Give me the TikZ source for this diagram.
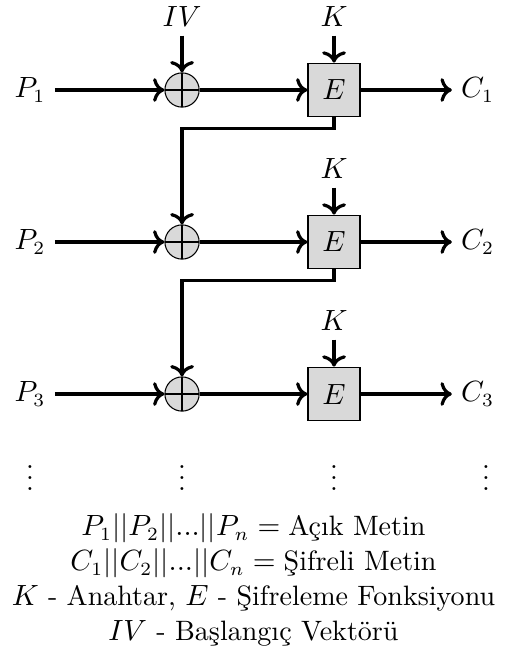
\documentclass[tikz,border=0pt]{standalone}
\usepackage{amsmath}
\usepackage{tikz}
\usetikzlibrary{positioning, arrows.meta}

\begin{document}
\begin{tikzpicture}[
  every node/.style={font=\fontsize{10.5}{13.1}\selectfont},
  enc/.style={draw, semithick, fill=gray!30, minimum width=0.68cm,
              minimum height=0.7cm, inner sep=0pt},
  xorop/.style={draw, circle, fill=gray!30, minimum size=0.45cm, inner sep=0pt,
                path picture={\draw (path picture bounding box.north) -- (path picture bounding box.south)
                                    (path picture bounding box.west) -- (path picture bounding box.east);}},
  arr/.style={->, very thick},
]
\useasboundingbox (-0.395,1.184) rectangle (6.276,-7.447);

% first block
\node (p1) at (0,0)    {$P_1$};
\node[xorop] (x1) at (2,0) {};
\node[enc]   (e1) at (4,0) {$E$};
\node (c1) at (5.89,0) {$C_1$};
\node (iv) at (2,0.97) {$IV$};
\node (k1) at (4,0.97) {$K$};

% second block
\node (p2) at (0,-2)    {$P_2$};
\node[xorop] (x2) at (2,-2) {};
\node[enc]   (e2) at (4,-2) {$E$};
\node (c2) at (5.89,-2) {$C_2$};
\node (k2) at (4,-1.03) {$K$};

% third block
\node (p3) at (0,-4)    {$P_3$};
\node[xorop] (x3) at (2,-4) {};
\node[enc]   (e3) at (4,-4) {$E$};
\node (c3) at (5.89,-4) {$C_3$};
\node (k3) at (4,-3.03) {$K$};

\node (d1) at (0,-5) {$\vdots$};
\node (d2) at (2,-5) {$\vdots$};
\node (d3) at (4,-5) {$\vdots$};
\node (d4) at (6,-5) {$\vdots$};

\node[align=center] (legend) at (2.94,-6.45)
  {$P_1||P_2||...||P_n = \text{Açık Metin}$\\
   $C_1||C_2||...||C_n = \text{Şifreli Metin}$\\
   $K$ - Anahtar, $E$ - Şifreleme Fonksiyonu\\
   $IV$ - Başlangıç Vektörü};

\draw[arr] (iv) -- (x1);
\draw[arr] (k1) -- (e1);
\draw[arr] (k2) -- (e2);
\draw[arr] (k3) -- (e3);
\draw[arr] (p1) -- (x1);
\draw[arr] (p2) -- (x2);
\draw[arr] (p3) -- (x3);
\draw[arr] (x1) -- (e1);
\draw[arr] (x2) -- (e2);
\draw[arr] (x3) -- (e3);
\draw[arr] (e1) -- (c1);
\draw[arr] (e2) -- (c2);
\draw[arr] (e3) -- (c3);
\draw[arr] (e1.south) -- ++(0,-0.15) -| (x2.north);
\draw[arr] (e2.south) -- ++(0,-0.15) -| (x3.north);
\end{tikzpicture}
\end{document}
